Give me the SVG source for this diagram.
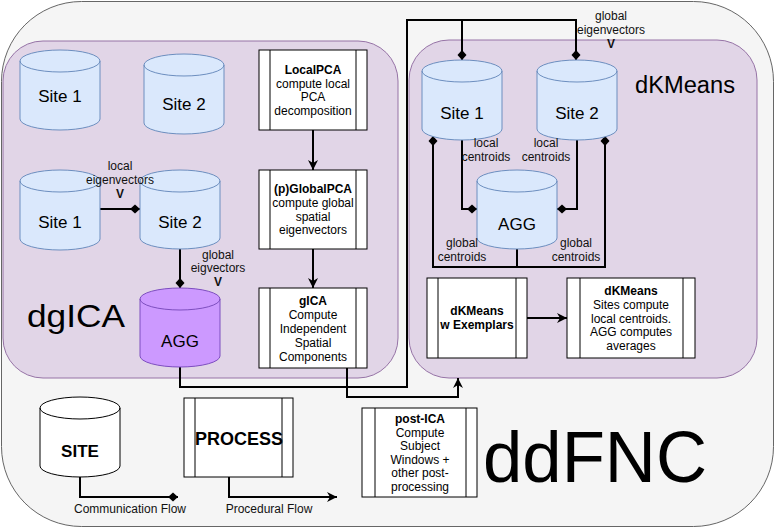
<svg xmlns="http://www.w3.org/2000/svg" width="776" height="529" viewBox="0 0 776 529">
<style>
text{font-family:"Liberation Sans",Arial,Helvetica,sans-serif;fill:#000}
.cyl{fill:#dae8fc;stroke:#6c8ebf;stroke-width:1}
.cylp{fill:#cc99ff;stroke:#7d4ebf;stroke-width:1}
.cylw{fill:#ffffff;stroke:#000;stroke-width:1}
.rim{fill:none}
.ct{font-size:17px;text-anchor:middle}
.proc{fill:#fff;stroke:#000;stroke-width:1}
.pt{font-size:12px;text-anchor:middle}
.b{font-weight:bold}
.lbl{font-size:12px;text-anchor:middle;fill:#111}
.con{fill:none;stroke:#000;stroke-width:2}
.cont{fill:#e1d5e7;stroke:#9673a6;stroke-width:1}
</style>
<defs>
<marker id="dia" markerUnits="userSpaceOnUse" markerWidth="11" markerHeight="10" refX="10" refY="5" orient="auto" viewBox="0 0 11 10">
<path d="M0,5 L5,0.5 L10,5 L5,9.5 Z" fill="#000"/>
</marker>
<marker id="arr" markerUnits="userSpaceOnUse" markerWidth="11" markerHeight="10" refX="10" refY="5" orient="auto" viewBox="0 0 11 10">
<path d="M0,0 L10,5 L0,10 L3,5 Z" fill="#000"/>
</marker>
</defs>

<g id="outer">
<rect x="1.5" y="1.5" width="772" height="525" rx="80" ry="80" fill="#f5f5f5" stroke="#666" stroke-width="1"/>
<text x="483" y="482" font-size="72" textLength="224" lengthAdjust="spacingAndGlyphs">ddFNC</text>
</g>

<g id="dgica">
<rect x="3" y="41" width="395" height="337" rx="40" ry="40" class="cont"/>
<text x="27" y="327" font-size="32" textLength="98" lengthAdjust="spacingAndGlyphs">dgICA</text>
</g>

<g id="dkmeans">
<rect x="409" y="40" width="348" height="338" rx="40" ry="40" class="cont"/>
<text x="635" y="93" font-size="23" textLength="100" lengthAdjust="spacingAndGlyphs">dKMeans</text>
</g>

<g id="connectors">
<path class="con" d="M100 209 H140" marker-end="url(#dia)"/>
<path class="con" d="M180 249 V288" marker-end="url(#dia)"/>
<path class="con" d="M313 130 V170" marker-end="url(#arr)"/>
<path class="con" d="M313 249 V288" marker-end="url(#arr)"/>
<path class="con" d="M180 367 V387 H407 V20 H576 V60" marker-end="url(#dia)"/>
<path class="con" d="M462 20 V60" marker-end="url(#dia)"/>
<path class="con" d="M347 368 V397 H458 V378" marker-end="url(#arr)"/>
<path class="con" d="M462 140 V209 H477" marker-end="url(#dia)"/>
<path class="con" d="M577 140 V209 H557" marker-end="url(#dia)"/>
<path class="con" d="M517 249 V267 H433 V136" marker-end="url(#dia)"/>
<path class="con" d="M517 267 H605 V136" marker-end="url(#dia)"/>
<path class="con" d="M527 318 H567" marker-end="url(#arr)"/>
<path class="con" d="M80 477 V497 H178" marker-end="url(#dia)"/>
<path class="con" d="M229 477 V497 H337" marker-end="url(#arr)"/>
</g>

<g id="g-site1-top">
<path class="cyl" d="M20 61 A40 11 0 0 1 100 61 V119 A40 11 0 0 1 20 119 Z"/>
<path class="cyl rim" d="M20 61 A40 11 0 0 0 100 61"/>
<text class="ct" x="60" y="102">Site 1</text>
</g>
<g id="g-site2-top">
<path class="cyl" d="M144 65 A40 11 0 0 1 224 65 V123 A40 11 0 0 1 144 123 Z"/>
<path class="cyl rim" d="M144 65 A40 11 0 0 0 224 65"/>
<text class="ct" x="184" y="110">Site 2</text>
</g>
<g id="g-site1-low">
<path class="cyl" d="M20 181 A40 11 0 0 1 100 181 V239 A40 11 0 0 1 20 239 Z"/>
<path class="cyl rim" d="M20 181 A40 11 0 0 0 100 181"/>
<text class="ct" x="60" y="228">Site 1</text>
</g>
<g id="g-site2-low">
<path class="cyl" d="M140 181 A40 11 0 0 1 220 181 V238 A40 11 0 0 1 140 238 Z"/>
<path class="cyl rim" d="M140 181 A40 11 0 0 0 220 181"/>
<text class="ct" x="180" y="228">Site 2</text>
</g>
<g id="g-agg">
<path class="cylp" d="M140 299 A40 11 0 0 1 220 299 V356 A40 11 0 0 1 140 356 Z"/>
<path class="cylp rim" d="M140 299 A40 11 0 0 0 220 299"/>
<text class="ct" x="180" y="347">AGG</text>
</g>

<g id="p-localpca">
<rect class="proc" x="259" y="50" width="108" height="80"/>
<path d="M270 50 V130 M356 50 V130" stroke="#000" stroke-width="1"/>
<text class="pt b" x="313" y="74">LocalPCA</text>
<text class="pt" x="313" y="88">compute local</text>
<text class="pt" x="313" y="101">PCA</text>
<text class="pt" x="313" y="115">decomposition</text>
</g>
<g id="p-globalpca">
<rect class="proc" x="259" y="170" width="108" height="79"/>
<path d="M270 170 V249 M356 170 V249" stroke="#000" stroke-width="1"/>
<text class="pt b" x="313" y="193">(p)GlobalPCA</text>
<text class="pt" x="313" y="207">compute global</text>
<text class="pt" x="313" y="221">spatial</text>
<text class="pt" x="313" y="234">eigenvectors</text>
</g>
<g id="p-gica">
<rect class="proc" x="259" y="288" width="108" height="80"/>
<path d="M270 288 V368 M356 288 V368" stroke="#000" stroke-width="1"/>
<text class="pt b" x="313" y="305">gICA</text>
<text class="pt" x="313" y="319">Compute</text>
<text class="pt" x="313" y="333">Independent</text>
<text class="pt" x="313" y="347">Spatial</text>
<text class="pt" x="313" y="361">Components</text>
</g>

<g id="k-site1">
<path class="cyl" d="M422 71 A40 11 0 0 1 502 71 V129 A40 11 0 0 1 422 129 Z"/>
<path class="cyl rim" d="M422 71 A40 11 0 0 0 502 71"/>
<text class="ct" x="462" y="119">Site 1</text>
</g>
<g id="k-site2">
<path class="cyl" d="M537 71 A40 11 0 0 1 617 71 V129 A40 11 0 0 1 537 129 Z"/>
<path class="cyl rim" d="M537 71 A40 11 0 0 0 617 71"/>
<text class="ct" x="577" y="119">Site 2</text>
</g>
<g id="k-agg">
<path class="cyl" d="M477 181 A40 11 0 0 1 557 181 V238 A40 11 0 0 1 477 238 Z"/>
<path class="cyl rim" d="M477 181 A40 11 0 0 0 557 181"/>
<text class="ct" x="517" y="230">AGG</text>
</g>

<g id="p-exemplars">
<rect class="proc" x="427" y="278" width="100" height="80"/>
<path d="M438 278 V358 M516 278 V358" stroke="#000" stroke-width="1"/>
<text class="pt b" x="477" y="315">dKMeans</text>
<text class="pt b" x="477" y="329">w Exemplars</text>
</g>
<g id="p-dkmeans">
<rect class="proc" x="567" y="278" width="128" height="80"/>
<path d="M580 278 V358 M683 278 V358" stroke="#000" stroke-width="1"/>
<text class="pt b" x="631" y="295">dKMeans</text>
<text class="pt" x="631" y="309">Sites compute</text>
<text class="pt" x="631" y="323">local centroids.</text>
<text class="pt" x="631" y="336">AGG computes</text>
<text class="pt" x="631" y="350">averages</text>
</g>

<g id="legend-site">
<path class="cylw" d="M40 408 A40 11 0 0 1 120 408 V466 A40 11 0 0 1 40 466 Z"/>
<path class="cylw rim" d="M40 408 A40 11 0 0 0 120 408"/>
<text class="ct b" x="80" y="457">SITE</text>
</g>
<g id="legend-process">
<rect class="proc" x="184" y="398" width="109" height="79"/>
<path d="M195 398 V477 M282 398 V477" stroke="#000" stroke-width="1"/>
<text x="239" y="445" font-size="18" font-weight="bold" text-anchor="middle">PROCESS</text>
</g>
<g id="p-postica">
<rect class="proc" x="362" y="408" width="115" height="89"/>
<path d="M375 408 V497 M466 408 V497" stroke="#000" stroke-width="1"/>
<text class="pt b" x="420" y="423">post-ICA</text>
<text class="pt" x="420" y="437">Compute</text>
<text class="pt" x="420" y="450">Subject</text>
<text class="pt" x="420" y="464">Windows +</text>
<text class="pt" x="420" y="477">other post-</text>
<text class="pt" x="420" y="491">processing</text>
</g>

<g id="edge-labels">
<text class="lbl" x="120" y="170">local</text>
<text class="lbl" x="120" y="184">eigenvectors</text>
<text class="lbl b" x="120" y="198">V</text>
<text class="lbl" x="218" y="259">global</text>
<text class="lbl" x="218" y="272">eigvectors</text>
<text class="lbl b" x="218" y="286">V</text>
<text class="lbl" x="611" y="20">global</text>
<text class="lbl" x="611" y="34">eigenvectors</text>
<text class="lbl b" x="611" y="48">V</text>
<text class="lbl" x="486" y="147">local</text>
<text class="lbl" x="486" y="161">centroids</text>
<text class="lbl" x="546" y="147">local</text>
<text class="lbl" x="546" y="161">centroids</text>
<text class="lbl" x="462" y="247">global</text>
<text class="lbl" x="462" y="261">centroids</text>
<text class="lbl" x="576" y="247">global</text>
<text class="lbl" x="576" y="261">centroids</text>
<text class="lbl" x="130" y="513">Communication Flow</text>
<text class="lbl" x="269" y="513">Procedural Flow</text>
</g>
</svg>
